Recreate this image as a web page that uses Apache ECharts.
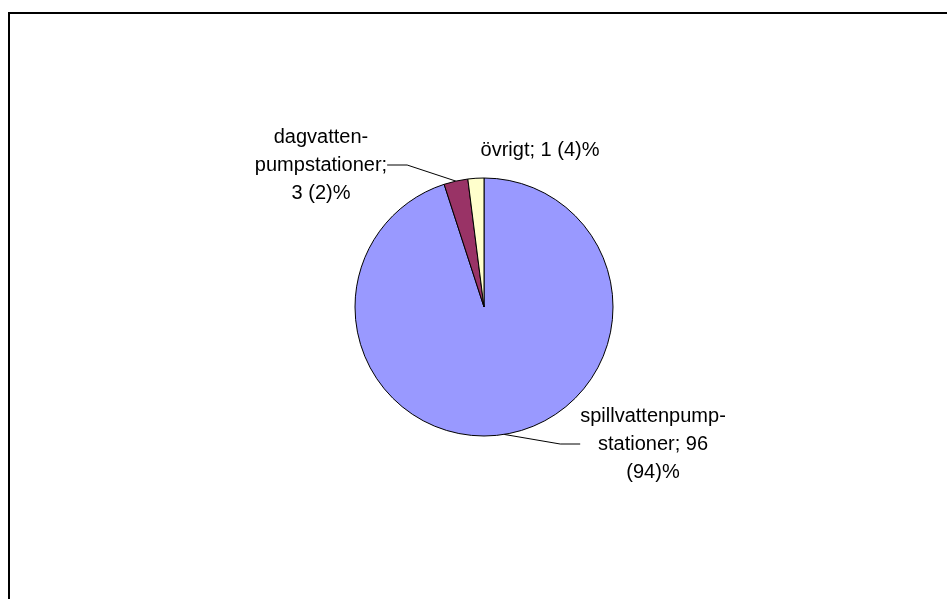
<!DOCTYPE html>
<html>
<head>
<meta charset="utf-8">
<script src="https://cdn.jsdelivr.net/npm/echarts@6/dist/echarts.min.js"></script>
<style>
    html, body { margin: 0; padding: 0; background: #fff; }
    #chart { width: 947px; height: 599px; }
</style>
</head>
<body>
<div id="chart"></div>
<script>
    // slices in clockwise order from 12 o'clock
    var names = ['spillvattenpumpstationer', 'dagvattenpumpstationer', 'övrigt'];
    var values = [95, 3, 2];
    var labels = ['spillvattenpump-\nstationer; 96\n(94)%', 'dagvatten-\npumpstationer;\n3 (2)%', 'övrigt; 1 (4)%'];
    var colors = ['#9999FF', '#993366', '#FFFFCC'];

    // where each label sits (text centre)
    var labelPos = [[653, 444], [321, 165], [540, 150]];

    var myChart = echarts.init(document.getElementById('chart'));
    var option = {
        animation: false,
        backgroundColor: '#fff',
        graphic: [{
            type: 'rect',
            shape: { x: 9, y: 13, width: 1000, height: 1000 },
            style: { fill: 'none', stroke: '#000', lineWidth: 2 },
            silent: true
        }],
        series: [{
            type: 'pie',
            center: [484, 307],
            radius: 129,
            startAngle: 90,
            clockwise: true,
            data: names.map(function (n, i) {
                return {
                    name: n,
                    value: values[i],
                    itemStyle: { color: colors[i] },
                    labelLine: { show: i !== 2 }
                };
            }),
            itemStyle: { borderColor: '#000', borderWidth: 1 },
            label: {
                show: true,
                position: 'outside',
                formatter: function (p) { return labels[p.dataIndex]; },
                fontFamily: 'Liberation Sans, Arial, sans-serif',
                fontSize: 20,
                lineHeight: 28,
                color: '#000',
                align: 'center'
            },
            labelLine: {
                show: true,
                length: 20,
                length2: 20,
                lineStyle: { color: '#000', width: 1 }
            },
            labelLayout: function (p) {
                var pos = labelPos[p.dataIndex];
                return {
                    x: pos[0],
                    y: pos[1],
                    align: 'center',
                    verticalAlign: 'middle'
                };
            },
            emphasis: { disabled: true }
        }]
    };
    myChart.setOption(option);
    window.addEventListener('resize', myChart.resize);
</script>
</body>
</html>
